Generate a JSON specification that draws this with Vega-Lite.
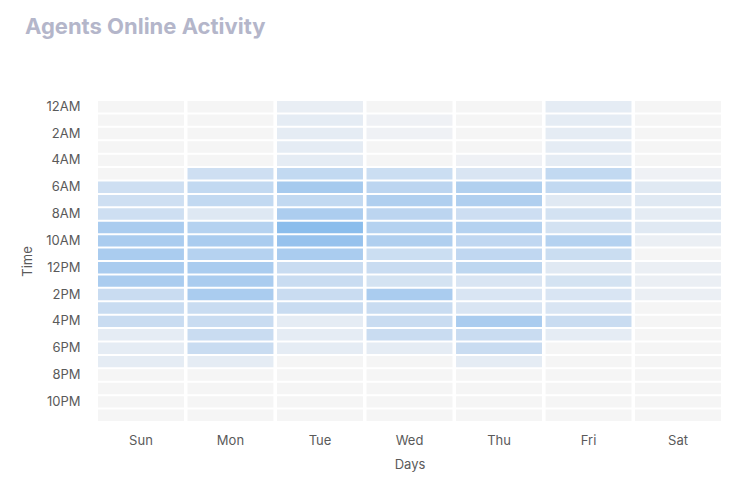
{
  "$schema": "https://vega.github.io/schema/vega-lite/v6.json",
  "width": 623,
  "height": 320,
  "autosize": {"type": "none"},
  "padding": {"left": 98, "top": 101, "right": 14, "bottom": 69},
  "background": "white",
  "title": {
    "text": "Agents Online Activity",
    "anchor": "start",
    "frame": "group",
    "font": "Inter",
    "fontSize": 22,
    "fontWeight": "bold",
    "color": "#b4b6ca",
    "dx": -73,
    "offset": 61
  },
  "config": {"view": {"stroke": null}, "font": "Inter"},
  "data": {
    "values": [
      {"day":"Sun","time":"12AM","v":0},{"day":"Mon","time":"12AM","v":0},{"day":"Tue","time":"12AM","v":1},{"day":"Wed","time":"12AM","v":0},{"day":"Thu","time":"12AM","v":0},{"day":"Fri","time":"12AM","v":1.3},{"day":"Sat","time":"12AM","v":0},
      {"day":"Sun","time":"1AM","v":0},{"day":"Mon","time":"1AM","v":0},{"day":"Tue","time":"1AM","v":1.3},{"day":"Wed","time":"1AM","v":0.5},{"day":"Thu","time":"1AM","v":0},{"day":"Fri","time":"1AM","v":1.3},{"day":"Sat","time":"1AM","v":0},
      {"day":"Sun","time":"2AM","v":0},{"day":"Mon","time":"2AM","v":0},{"day":"Tue","time":"2AM","v":1.3},{"day":"Wed","time":"2AM","v":0.5},{"day":"Thu","time":"2AM","v":0},{"day":"Fri","time":"2AM","v":1.3},{"day":"Sat","time":"2AM","v":0},
      {"day":"Sun","time":"3AM","v":0},{"day":"Mon","time":"3AM","v":0},{"day":"Tue","time":"3AM","v":1.3},{"day":"Wed","time":"3AM","v":0},{"day":"Thu","time":"3AM","v":0},{"day":"Fri","time":"3AM","v":1.3},{"day":"Sat","time":"3AM","v":0},
      {"day":"Sun","time":"4AM","v":0},{"day":"Mon","time":"4AM","v":0},{"day":"Tue","time":"4AM","v":1.3},{"day":"Wed","time":"4AM","v":0},{"day":"Thu","time":"4AM","v":0.5},{"day":"Fri","time":"4AM","v":1.3},{"day":"Sat","time":"4AM","v":0},
      {"day":"Sun","time":"5AM","v":0},{"day":"Mon","time":"5AM","v":3.1},{"day":"Tue","time":"5AM","v":4},{"day":"Wed","time":"5AM","v":3.3},{"day":"Thu","time":"5AM","v":2.2},{"day":"Fri","time":"5AM","v":4},{"day":"Sat","time":"5AM","v":0.5},
      {"day":"Sun","time":"6AM","v":3.1},{"day":"Mon","time":"6AM","v":4},{"day":"Tue","time":"6AM","v":6.1},{"day":"Wed","time":"6AM","v":4.5},{"day":"Thu","time":"6AM","v":5.3},{"day":"Fri","time":"6AM","v":4},{"day":"Sat","time":"6AM","v":1.7},
      {"day":"Sun","time":"7AM","v":3.1},{"day":"Mon","time":"7AM","v":4},{"day":"Tue","time":"7AM","v":4},{"day":"Wed","time":"7AM","v":5.4},{"day":"Thu","time":"7AM","v":5.4},{"day":"Fri","time":"7AM","v":1.7},{"day":"Sat","time":"7AM","v":1.7},
      {"day":"Sun","time":"8AM","v":3.1},{"day":"Mon","time":"8AM","v":1.8},{"day":"Tue","time":"8AM","v":5.7},{"day":"Wed","time":"8AM","v":4.5},{"day":"Thu","time":"8AM","v":3.2},{"day":"Fri","time":"8AM","v":2.7},{"day":"Sat","time":"8AM","v":1.3},
      {"day":"Sun","time":"9AM","v":5.8},{"day":"Mon","time":"9AM","v":5},{"day":"Tue","time":"9AM","v":8},{"day":"Wed","time":"9AM","v":5},{"day":"Thu","time":"9AM","v":5},{"day":"Fri","time":"9AM","v":2.7},{"day":"Sat","time":"9AM","v":1.7},
      {"day":"Sun","time":"10AM","v":5.8},{"day":"Mon","time":"10AM","v":5.8},{"day":"Tue","time":"10AM","v":7.2},{"day":"Wed","time":"10AM","v":5.4},{"day":"Thu","time":"10AM","v":4.2},{"day":"Fri","time":"10AM","v":5},{"day":"Sat","time":"10AM","v":0.8},
      {"day":"Sun","time":"11AM","v":5.8},{"day":"Mon","time":"11AM","v":5},{"day":"Tue","time":"11AM","v":5.8},{"day":"Wed","time":"11AM","v":3.3},{"day":"Thu","time":"11AM","v":4.2},{"day":"Fri","time":"11AM","v":3.4},{"day":"Sat","time":"11AM","v":0},
      {"day":"Sun","time":"12PM","v":5.8},{"day":"Mon","time":"12PM","v":5.8},{"day":"Tue","time":"12PM","v":3.5},{"day":"Wed","time":"12PM","v":3.5},{"day":"Thu","time":"12PM","v":4.3},{"day":"Fri","time":"12PM","v":1.7},{"day":"Sat","time":"12PM","v":0.8},
      {"day":"Sun","time":"1PM","v":5.8},{"day":"Mon","time":"1PM","v":5.8},{"day":"Tue","time":"1PM","v":3.5},{"day":"Wed","time":"1PM","v":2.6},{"day":"Thu","time":"1PM","v":2.2},{"day":"Fri","time":"1PM","v":2.6},{"day":"Sat","time":"1PM","v":0.8},
      {"day":"Sun","time":"2PM","v":3.5},{"day":"Mon","time":"2PM","v":5.8},{"day":"Tue","time":"2PM","v":3.5},{"day":"Wed","time":"2PM","v":5.8},{"day":"Thu","time":"2PM","v":2.2},{"day":"Fri","time":"2PM","v":2.2},{"day":"Sat","time":"2PM","v":0.8},
      {"day":"Sun","time":"3PM","v":3.5},{"day":"Mon","time":"3PM","v":3.5},{"day":"Tue","time":"3PM","v":3.5},{"day":"Wed","time":"3PM","v":3.5},{"day":"Thu","time":"3PM","v":2.2},{"day":"Fri","time":"3PM","v":2.2},{"day":"Sat","time":"3PM","v":0},
      {"day":"Sun","time":"4PM","v":3.5},{"day":"Mon","time":"4PM","v":3.5},{"day":"Tue","time":"4PM","v":1.3},{"day":"Wed","time":"4PM","v":3.5},{"day":"Thu","time":"4PM","v":5.8},{"day":"Fri","time":"4PM","v":3.5},{"day":"Sat","time":"4PM","v":0},
      {"day":"Sun","time":"5PM","v":1.3},{"day":"Mon","time":"5PM","v":3.5},{"day":"Tue","time":"5PM","v":1.3},{"day":"Wed","time":"5PM","v":3.5},{"day":"Thu","time":"5PM","v":3.5},{"day":"Fri","time":"5PM","v":1.3},{"day":"Sat","time":"5PM","v":0},
      {"day":"Sun","time":"6PM","v":1.3},{"day":"Mon","time":"6PM","v":3.5},{"day":"Tue","time":"6PM","v":1.3},{"day":"Wed","time":"6PM","v":1.3},{"day":"Thu","time":"6PM","v":3.5},{"day":"Fri","time":"6PM","v":0},{"day":"Sat","time":"6PM","v":0},
      {"day":"Sun","time":"7PM","v":1.3},{"day":"Mon","time":"7PM","v":1.3},{"day":"Tue","time":"7PM","v":0},{"day":"Wed","time":"7PM","v":0},{"day":"Thu","time":"7PM","v":1.3},{"day":"Fri","time":"7PM","v":0},{"day":"Sat","time":"7PM","v":0},
      {"day":"Sun","time":"8PM","v":0},{"day":"Mon","time":"8PM","v":0},{"day":"Tue","time":"8PM","v":0},{"day":"Wed","time":"8PM","v":0},{"day":"Thu","time":"8PM","v":0},{"day":"Fri","time":"8PM","v":0},{"day":"Sat","time":"8PM","v":0},
      {"day":"Sun","time":"9PM","v":0},{"day":"Mon","time":"9PM","v":0},{"day":"Tue","time":"9PM","v":0},{"day":"Wed","time":"9PM","v":0},{"day":"Thu","time":"9PM","v":0},{"day":"Fri","time":"9PM","v":0},{"day":"Sat","time":"9PM","v":0},
      {"day":"Sun","time":"10PM","v":0},{"day":"Mon","time":"10PM","v":0},{"day":"Tue","time":"10PM","v":0},{"day":"Wed","time":"10PM","v":0},{"day":"Thu","time":"10PM","v":0},{"day":"Fri","time":"10PM","v":0},{"day":"Sat","time":"10PM","v":0},
      {"day":"Sun","time":"11PM","v":0},{"day":"Mon","time":"11PM","v":0},{"day":"Tue","time":"11PM","v":0},{"day":"Wed","time":"11PM","v":0},{"day":"Thu","time":"11PM","v":0},{"day":"Fri","time":"11PM","v":0},{"day":"Sat","time":"11PM","v":0}
    ]
  },
  "mark": {"type": "rect"},
  "encoding": {
    "x": {
      "field": "day",
      "type": "ordinal",
      "sort": ["Sun","Mon","Tue","Wed","Thu","Fri","Sat"],
      "scale": {"paddingInner": 0.04, "paddingOuter": 0},
      "axis": {
        "title": "Days",
        "labelAngle": 0,
        "domain": false,
        "ticks": false,
        "labelFontSize": 13,
        "labelColor": "#5a5a5a",
        "labelPadding": 13,
        "titleFontSize": 13,
        "titleFontWeight": "normal",
        "titleColor": "#5a5a5a",
        "titlePadding": 11
      }
    },
    "y": {
      "field": "time",
      "type": "ordinal",
      "sort": ["12AM","1AM","2AM","3AM","4AM","5AM","6AM","7AM","8AM","9AM","10AM","11AM","12PM","1PM","2PM","3PM","4PM","5PM","6PM","7PM","8PM","9PM","10PM","11PM"],
      "scale": {"paddingInner": 0.15, "paddingOuter": 0},
      "axis": {
        "title": "Time",
        "values": ["12AM","2AM","4AM","6AM","8AM","10AM","12PM","2PM","4PM","6PM","8PM","10PM"],
        "domain": false,
        "ticks": false,
        "labelFontSize": 13,
        "labelColor": "#5a5a5a",
        "labelPadding": 18,
        "titleFontSize": 13,
        "titleFontWeight": "normal",
        "titleColor": "#5a5a5a",
        "titlePadding": 11
      }
    },
    "color": {
      "field": "v",
      "type": "quantitative",
      "scale": {"domain": [0, 8], "range": ["#f5f5f5", "#8bbdec"]},
      "legend": null
    }
  }
}
